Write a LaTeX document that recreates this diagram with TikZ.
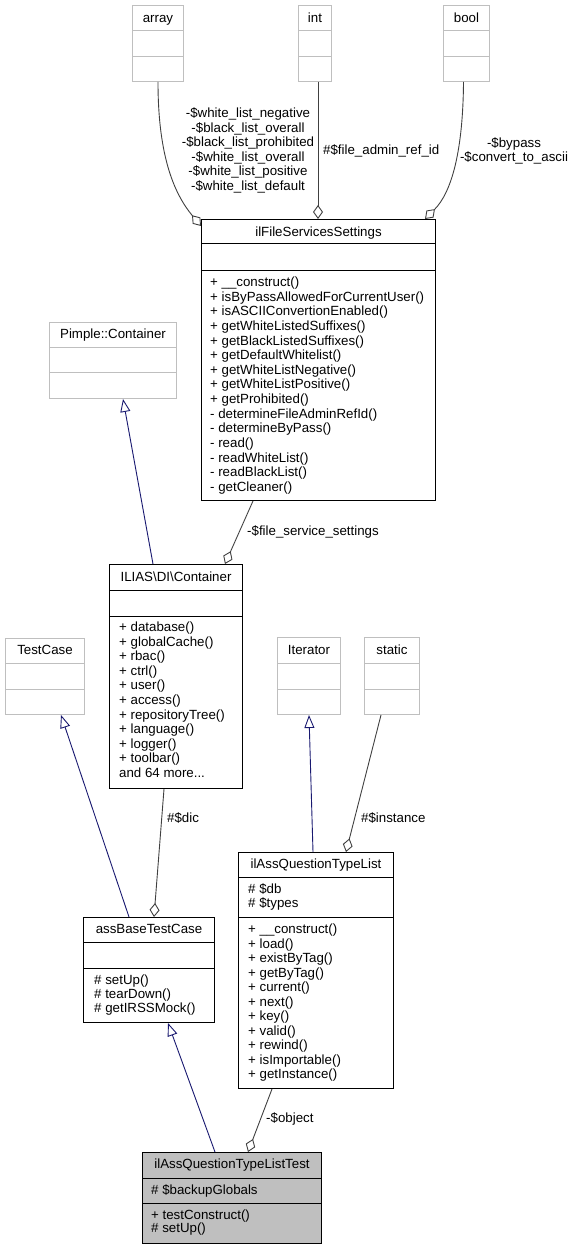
\documentclass[tikz,border=0pt]{standalone}
\usepackage{fontspec}
\setmainfont{Liberation Sans}
\usetikzlibrary{arrows.meta,calc}
\definecolor{extgray}{HTML}{BFBFBF}
\definecolor{navyline}{HTML}{191970}
\definecolor{aggline}{HTML}{404040}
\definecolor{testfill}{HTML}{BFBFBF}
\newcommand{\hdiv}[3][black]{\draw[#1, line width=1pt] ($(#2.north west)+(0,#3)$) -- ($(#2.north east)+(0,#3)$);}
\begin{document}
\begin{tikzpicture}[x=1pt,y=-1pt,
  cls/.style={draw=black, line width=1pt, fill=white, inner sep=0pt, anchor=north west},
  ext/.style={draw=extgray, line width=1pt, fill=white, inner sep=0pt, anchor=north west},
  txt/.style={inner sep=0pt, font=\fontsize{13.3}{16}\selectfont},
  agg/.style={draw=aggline, line width=0.9pt, -{Diamond[length=14pt,width=10pt,fill=white,line width=0.9pt]}},
  inh/.style={draw=navyline, line width=0.9pt, -{Triangle[length=13pt,width=10pt,fill=white,line width=0.9pt]}}]
\useasboundingbox (0,0) rectangle (571,1249);

% ---- external boxes (gray)
\node[ext, minimum width=51pt, minimum height=76pt] (arr) at (132,5) {};
\hdiv[extgray]{arr}{26}\hdiv[extgray]{arr}{52}
\node[txt, anchor=base] (arr-t) at ($(arr.north)+(0,17.5)$) {array};

\node[ext, minimum width=33pt, minimum height=76pt] (int) at (298,5) {};
\hdiv[extgray]{int}{26}\hdiv[extgray]{int}{52}
\node[txt, anchor=base] (int-t) at ($(int.north)+(0,17.5)$) {int};

\node[ext, minimum width=46pt, minimum height=76pt] (bool) at (443,5) {};
\hdiv[extgray]{bool}{26}\hdiv[extgray]{bool}{52}
\node[txt, anchor=base] (bool-t) at ($(bool.north)+(0,17.5)$) {bool};

\node[ext, minimum width=127pt, minimum height=76pt] (pim) at (49,322) {};
\hdiv[extgray]{pim}{25}\hdiv[extgray]{pim}{50}
\node[txt, anchor=base] (pim-t) at ($(pim.north)+(0,16.5)$) {Pimple::Container};

\node[ext, minimum width=79pt, minimum height=76pt] (tc) at (5,638) {};
\hdiv[extgray]{tc}{25}\hdiv[extgray]{tc}{51}
\node[txt, anchor=base] (tc-t) at ($(tc.north)+(0,16.5)$) {TestCase};

\node[ext, minimum width=63pt, minimum height=77pt] (itr) at (277,637) {};
\hdiv[extgray]{itr}{26}\hdiv[extgray]{itr}{52}
\node[txt, anchor=base] (itr-t) at ($(itr.north)+(0,17.5)$) {Iterator};

\node[ext, minimum width=55pt, minimum height=77pt] (sta) at (364,637) {};
\hdiv[extgray]{sta}{26}\hdiv[extgray]{sta}{52}
\node[txt, anchor=base] (sta-t) at ($(sta.north)+(0,17.5)$) {static};

% ---- ilFileServicesSettings
\node[cls, minimum width=234pt, minimum height=281pt] (fss) at (201,219) {};
\hdiv{fss}{25}\hdiv{fss}{51}
\node[txt, anchor=base] (fss-t) at ($(fss.north)+(0,17.5)$) {ilFileServicesSettings};
\foreach \t [count=\i from 0] in {+ \_\_construct(), + isByPassAllowedForCurrentUser(), + isASCIIConvertionEnabled(), + getWhiteListedSuffixes(), + getBlackListedSuffixes(), + getDefaultWhitelist(), + getWhiteListNegative(), + getWhiteListPositive(), + getProhibited(), - determineFileAdminRefId(), - determineByPass(), - read(), - readWhiteList(), - readBlackList(), - getCleaner()}
  \node[txt, anchor=base west] (fss-m\i) at ($(fss.north west)+(9,67.5+\i*14.64)$) {\t};

% ---- ILIAS\DI\Container
\node[cls, minimum width=133pt, minimum height=224pt] (ili) at (109,564) {};
\hdiv{ili}{26}\hdiv{ili}{52}
\node[txt, anchor=base] (ili-t) at ($(ili.north)+(0,17.5)$) {ILIAS\textbackslash DI\textbackslash Container};
\foreach \t [count=\i from 0] in {+ database(), + globalCache(), + rbac(), + ctrl(), + user(), + access(), + repositoryTree(), + language(), + logger(), + toolbar()}
  \node[txt, anchor=base west] (ili-m\i) at ($(ili.north west)+(10,67.5+\i*14.6)$) {\t};
\node[txt, anchor=base west] (ili-more) at ($(ili.north west)+(10,67.5+10*14.6)$) {and 64 more...};

% ---- ilAssQuestionTypeList
\node[cls, minimum width=155pt, minimum height=236pt] (aql) at (238,852) {};
\hdiv{aql}{25}\hdiv{aql}{65}
\node[txt, anchor=base] (aql-t) at ($(aql.north)+(0,16.5)$) {ilAssQuestionTypeList};
\node[txt, anchor=base west] (aql-a0) at ($(aql.north west)+(10,41.5)$) {\# \$db};
\node[txt, anchor=base west] (aql-a1) at ($(aql.north west)+(10,55)$) {\# \$types};
\foreach \t [count=\i from 0] in {+ \_\_construct(), + load(), + existByTag(), + getByTag(), + current(), + next(), + key(), + valid(), + rewind(), + isImportable(), + getInstance()}
  \node[txt, anchor=base west] (aql-m\i) at ($(aql.north west)+(10,81.5+\i*14.5)$) {\t};

% ---- assBaseTestCase
\node[cls, minimum width=131pt, minimum height=105pt] (abt) at (83,917) {};
\hdiv{abt}{25}\hdiv{abt}{51}
\node[txt, anchor=base] (abt-t) at ($(abt.north)+(0,16.5)$) {assBaseTestCase};
\foreach \t [count=\i from 0] in {\# setUp(), \# tearDown(), \# getIRSSMock()}
  \node[txt, anchor=base west] (abt-m\i) at ($(abt.north west)+(11,67.5+\i*14.2)$) {\t};

% ---- ilAssQuestionTypeListTest
\node[cls, fill=testfill, minimum width=179pt, minimum height=91pt] (tst) at (142,1152) {};
\hdiv{tst}{26}\hdiv{tst}{51}
\node[txt, anchor=base] (tst-t) at ($(tst.north)+(0,16.5)$) {ilAssQuestionTypeListTest};
\node[txt, anchor=base west] (tst-a0) at ($(tst.north west)+(9,42.5)$) {\# \$backupGlobals};
\node[txt, anchor=base west] (tst-m0) at ($(tst.north west)+(9,67.5)$) {+ testConstruct()};
\node[txt, anchor=base west] (tst-m1) at ($(tst.north west)+(9,80.5)$) {\# setUp()};

% ---- connectors
\draw[agg] (arr.south) .. controls (158,160) and (176,196) .. ($(fss.north west)+(0,7)$);
\coordinate (intb) at ([xshift=3pt]int.south);
\draw[agg] (intb) -- (intb |- fss.north);
\draw[agg] ([xshift=-3pt]bool.south) .. controls (463,150) and (452,192) .. ($(fss.north east)+(-11,0)$);
\draw[agg] ($(fss.south west)+(52,0)$) -- ($(ili.north west)+(116,0)$);
\draw[inh] ($(ili.north west)+(44,0)$) -- ($(pim.south west)+(74,0)$);
\draw[inh] ($(abt.north west)+(46,0)$) -- ($(tc.south west)+(56,0)$);
\draw[agg] ($(ili.south west)+(55,0)$) -- ($(abt.north west)+(71,0)$);
\draw[inh] ($(aql.north west)+(75,0)$) -- ($(itr.south west)+(32,0)$);
\draw[agg] ($(sta.south west)+(17,0)$) -- ($(aql.north west)+(108,0)$);
\draw[inh] ($(tst.north west)+(73,0)$) -- ($(abt.south west)+(85,0)$);
\draw[agg] ($(aql.south west)+(34,0)$) -- ($(tst.north west)+(106,0)$);

% ---- connector labels
\foreach \t [count=\i from 0] in {-\$white\_list\_negative, -\$black\_list\_overall, -\$black\_list\_prohibited, -\$white\_list\_overall, -\$white\_list\_positive, -\$white\_list\_default}
  \node[txt, anchor=base] (lab-arr\i) at (248,117.5+\i*14.6) {\t};
\node[txt, anchor=base west] (lab-int) at (323,154.5) {\#\$file\_admin\_ref\_id};
\node[txt, anchor=base] (lab-bool0) at (514,147.5) {-\$bypass};
\node[txt, anchor=base] (lab-bool1) at (514,161.5) {-\$convert\_to\_ascii};
\node[txt, anchor=base west] (lab-fss) at (247,535.5) {-\$file\_service\_settings};
\node[txt, anchor=base west] (lab-dic) at (167,822.5) {\#\$dic};
\node[txt, anchor=base west] (lab-ins) at (361,822.5) {\#\$instance};
\node[txt, anchor=base west] (lab-obj) at (266,1122.5) {-\$object};
\end{tikzpicture}
\end{document}
